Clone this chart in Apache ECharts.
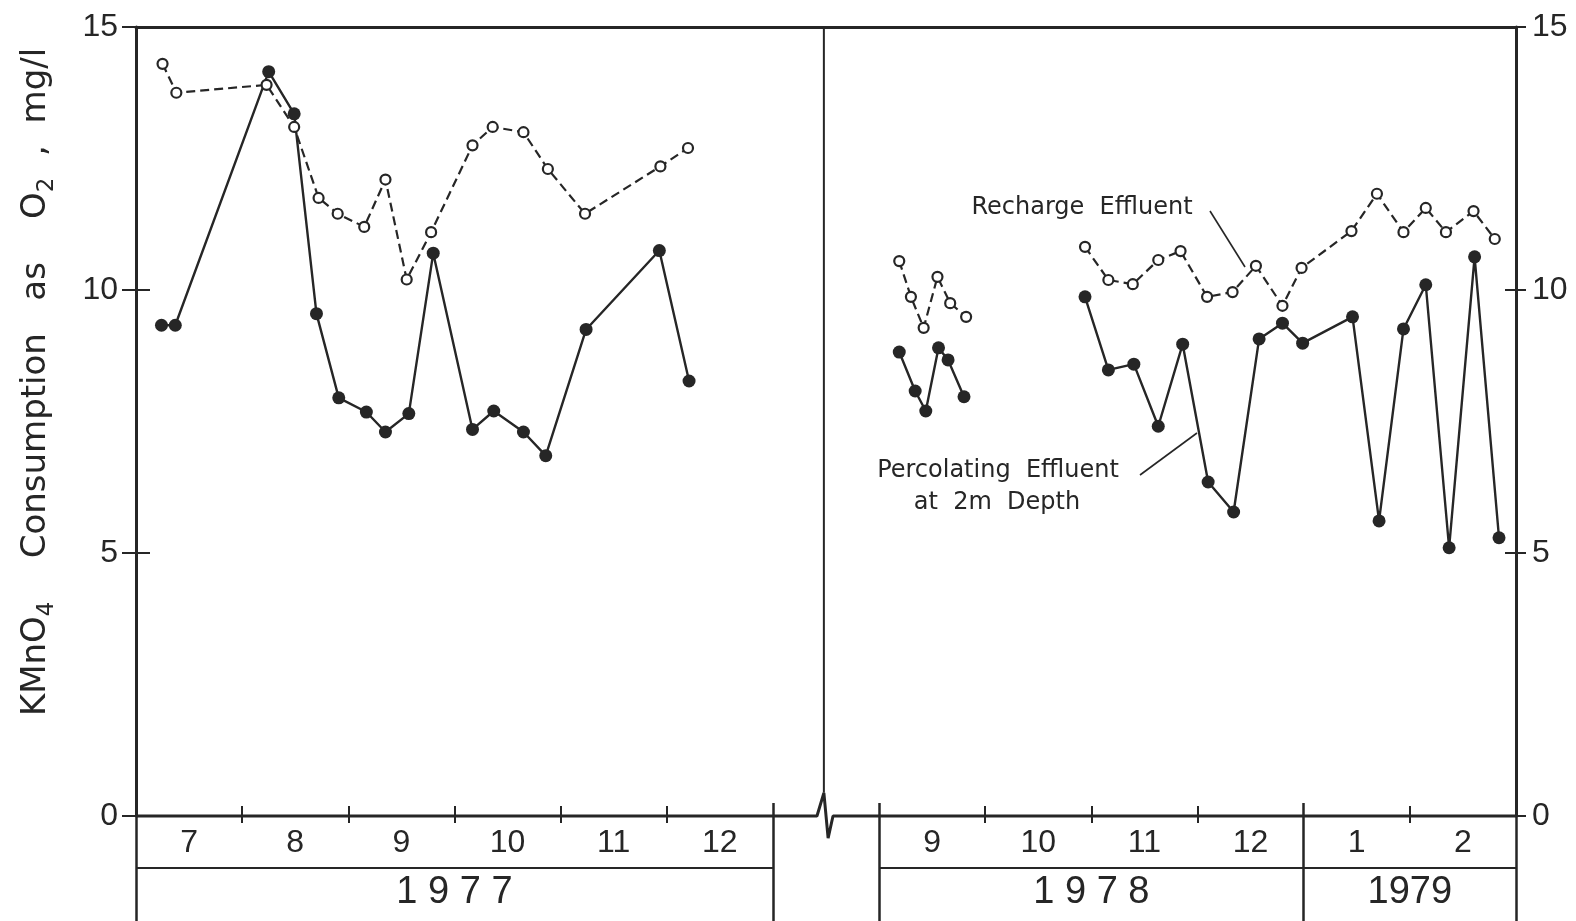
<!DOCTYPE html>
<html>
<head>
<meta charset="utf-8">
<script src="https://cdn.jsdelivr.net/npm/echarts/dist/echarts.min.js"></script>
<style>
  html, body { margin: 0; padding: 0; background: #fff; }
  #chart { width: 1576px; height: 921px; }
</style>
</head>
<body>
<div id="chart"></div>
<script>
// month cells along the axis (blank cell = axis break)
const monthLabels = ['7', '8', '9', '10', '11', '12', '', '9', '10', '11', '12', '1', '2'];
const yearLabels = ['1 9 7 7', '1 9 7 8', '1979'];
const yTicks = [0, 5, 10, 15];

// 1977, decimal month (7.5 = middle of July)
const rechargeMonth77 = [7.25, 7.38, 8.23, 8.49, 8.72, 8.90, 9.15, 9.35, 9.55, 9.78, 10.17, 10.36, 10.65, 10.88, 11.23, 11.94, 12.20];
const recharge77 = [14.3, 13.75, 13.9, 13.1, 11.75, 11.45, 11.2, 12.1, 10.2, 11.1, 12.75, 13.1, 13.0, 12.3, 11.45, 12.35, 12.7];
const percMonth77 = [7.24, 7.37, 8.25, 8.49, 8.70, 8.91, 9.17, 9.35, 9.57, 9.80, 10.17, 10.37, 10.65, 10.86, 11.24, 11.93, 12.21];
const perc77 = [9.33, 9.33, 14.15, 13.35, 9.55, 7.95, 7.68, 7.3, 7.65, 10.7, 7.35, 7.7, 7.3, 6.85, 9.25, 10.75, 8.27];

// 1978-79, decimal month counted from Jan 1978 (13 = Jan 1979)
const rechargeMonth78a = [9.19, 9.30, 9.42, 9.55, 9.67, 9.82];
const recharge78a = [10.55, 9.87, 9.28, 10.25, 9.75, 9.49];
const percMonth78a = [9.19, 9.34, 9.44, 9.56, 9.65, 9.80];
const perc78a = [8.82, 8.08, 7.70, 8.90, 8.67, 7.97];

const rechargeMonth78b = [10.94, 11.16, 11.39, 11.63, 11.84, 12.09, 12.33, 12.55, 12.80, 12.98, 13.45, 13.69, 13.94, 14.15, 14.34, 14.60, 14.80];
const recharge78b = [10.82, 10.19, 10.11, 10.57, 10.74, 9.87, 9.96, 10.46, 9.70, 10.42, 11.12, 11.83, 11.10, 11.56, 11.10, 11.50, 10.97];
const percMonth78b = [10.94, 11.16, 11.40, 11.63, 11.86, 12.10, 12.34, 12.58, 12.80, 12.99, 13.46, 13.71, 13.94, 14.15, 14.37, 14.61, 14.84];
const perc78b = [9.87, 8.48, 8.59, 7.41, 8.97, 6.35, 5.78, 9.07, 9.37, 8.99, 9.49, 5.61, 9.26, 10.10, 5.10, 10.63, 5.29];

const ink = '#262626';
const numFont = 'Liberation Sans';
const txtFont = 'DejaVu Sans';

// axis position: 0..6 = Jul-Dec 1977, 6..7 break, 7..13 = Sep 1978 - Feb 1979
const pos77 = m => m - 7;
const pos78 = m => m - 2;
const pairs = (ms, vs, f) => ms.map((m, i) => [f(m), vs[i]]);

let chart = echarts.init(document.getElementById('chart'));

function recharge(data) {
  return {
    type: 'line', data: data, symbol: 'circle', symbolSize: 10,
    itemStyle: { color: '#fff', borderColor: ink, borderWidth: 2.2 },
    lineStyle: { color: ink, width: 2.2, type: [9, 5] },
    z: 5
  };
}
function perc(data) {
  return {
    type: 'line', data: data, symbol: 'circle', symbolSize: 13,
    itemStyle: { color: ink, borderWidth: 0 },
    lineStyle: { color: ink, width: 2.4 },
    z: 4
  };
}

const xBase = { type: 'value', min: 0, max: 13, splitLine: { show: false }, axisLine: { show: false, onZero: false } };
const yBase = { type: 'value', min: 0, max: 15, interval: 5, splitLine: { show: false }, axisLine: { show: false, onZero: false } };
const monthTicks = [1, 2, 3, 4, 5, 8, 9, 10, 12];
const noLabel = { show: false };
const noTick = { show: false };

var option = {
  animation: false,
  backgroundColor: '#fff',
  grid: { left: 136, right: 60, top: 27, bottom: 105, show: false },
  xAxis: [
    // month labels + short ticks below the axis
    Object.assign({}, xBase, {
      position: 'bottom',
      axisTick: { show: true, customValues: monthTicks, length: 7, lineStyle: { color: ink, width: 2 } },
      axisLabel: {
        customValues: [0.5, 1.5, 2.5, 3.5, 4.5, 5.5, 7.5, 8.5, 9.5, 10.5, 11.5, 12.5],
        formatter: v => monthLabels[Math.floor(v)],
        margin: 11, color: ink, fontSize: 32, fontFamily: numFont
      }
    }),
    // tick parts above the axis
    Object.assign({}, xBase, {
      position: 'bottom',
      axisTick: { show: true, inside: true, customValues: monthTicks, length: 10, lineStyle: { color: ink, width: 2 } },
      axisLabel: noLabel
    }),
    // table verticals under the axis
    Object.assign({}, xBase, {
      position: 'bottom',
      axisTick: { show: true, customValues: [0, 6, 7, 11, 13], length: 106, lineStyle: { color: ink, width: 2.5 } },
      axisLabel: noLabel
    }),
    Object.assign({}, xBase, {
      position: 'bottom',
      axisTick: { show: true, inside: true, customValues: [6, 7, 11], length: 13, lineStyle: { color: ink, width: 2.5 } },
      axisLabel: noLabel
    }),
    // year row
    Object.assign({}, xBase, {
      position: 'bottom',
      axisTick: noTick,
      axisLabel: {
        customValues: [3, 9, 12],
        formatter: v => yearLabels[[3, 9, 12].indexOf(v)],
        margin: 58, color: ink, fontSize: 38, fontFamily: numFont
      }
    }),
    // top border
    Object.assign({}, xBase, {
      position: 'top',
      axisLine: { show: true, onZero: false, lineStyle: { color: ink, width: 3 } },
      axisTick: noTick, axisLabel: noLabel
    })
  ],
  yAxis: [
    Object.assign({}, yBase, {
      position: 'left',
      axisLine: { show: true, onZero: false, lineStyle: { color: ink, width: 3 } },
      axisTick: { show: true, length: 14, lineStyle: { color: ink, width: 2 } },
      axisLabel: { margin: 18, color: ink, fontSize: 32, fontFamily: numFont, formatter: v => yTicks.indexOf(v) >= 0 ? String(v) : '' }
    }),
    Object.assign({}, yBase, {
      position: 'left',
      axisTick: { show: true, inside: true, length: 14, lineStyle: { color: ink, width: 2 } },
      axisLabel: noLabel
    }),
    Object.assign({}, yBase, {
      position: 'right',
      axisLine: { show: true, onZero: false, lineStyle: { color: ink, width: 3 } },
      axisTick: { show: true, length: 10, lineStyle: { color: ink, width: 2 } },
      axisLabel: { margin: 16, color: ink, fontSize: 32, fontFamily: numFont }
    }),
    Object.assign({}, yBase, {
      position: 'right',
      axisTick: { show: true, inside: true, length: 11, lineStyle: { color: ink, width: 2 } },
      axisLabel: noLabel
    })
  ],
  series: [
    // x axis line with the break mark
    {
      type: 'line', symbol: 'none', clip: false, silent: true, z: 3,
      lineStyle: { color: ink, width: 3 },
      data: [[0, 0], [6.415, 0], [6.48, 0.44], [6.52, -0.42], [6.566, 0], [13, 0]]
    },
    {
      type: 'line', symbol: 'none', clip: false, silent: true, z: 3,
      lineStyle: { color: ink, width: 2 },
      data: [[6.48, 0.44], [6.48, 15]]
    },
    recharge(pairs(rechargeMonth77, recharge77, pos77)),
    recharge(pairs(rechargeMonth78a, recharge78a, pos78)),
    recharge(pairs(rechargeMonth78b, recharge78b, pos78)),
    perc(pairs(percMonth77, perc77, pos77)),
    perc(pairs(percMonth78a, perc78a, pos78)),
    perc(pairs(percMonth78b, perc78b, pos78))
  ]
};
chart.setOption(option);

// table row line and annotations
const px = v => chart.convertToPixel({ xAxisIndex: 0 }, v);
const rowY = 868;
const txt = (text, x, y, size) => ({
  type: 'text', x: x, y: y, z: 10,
  style: { text: text, fill: ink, fontSize: size, fontFamily: txtFont, align: 'center', verticalAlign: 'middle' }
});
const seg = (x1, y1, x2, y2, w) => ({
  type: 'line', z: 10,
  shape: { x1: x1, y1: y1, x2: x2, y2: y2 },
  style: { stroke: ink, lineWidth: w }
});

chart.setOption({
  graphic: [
    seg(px(0), rowY, px(6), rowY, 2),
    seg(px(7), rowY, px(13), rowY, 2),
    txt('Recharge  Effluent', 1082, 208, 24),
    seg(1210, 211, 1245, 267, 1.6),
    txt('Percolating  Effluent', 998, 471, 24),
    txt('at  2m  Depth', 997, 503, 24),
    seg(1140, 475, 1197, 433, 1.6),
    {
      type: 'text', x: 36, y: 382, rotation: Math.PI / 2, z: 10,
      style: {
        text: '{a|KMnO}{s|4}{a|    Consumption   as    O}{s|2}{a|  ,  mg/l}',
        align: 'center', verticalAlign: 'middle',
        rich: {
          a: { fontSize: 34, fontFamily: txtFont, fill: ink, color: ink },
          s: { fontSize: 23, fontFamily: txtFont, fill: ink, color: ink, padding: [22, 0, 0, 0] }
        }
      }
    }
  ]
});
</script>
</body>
</html>
